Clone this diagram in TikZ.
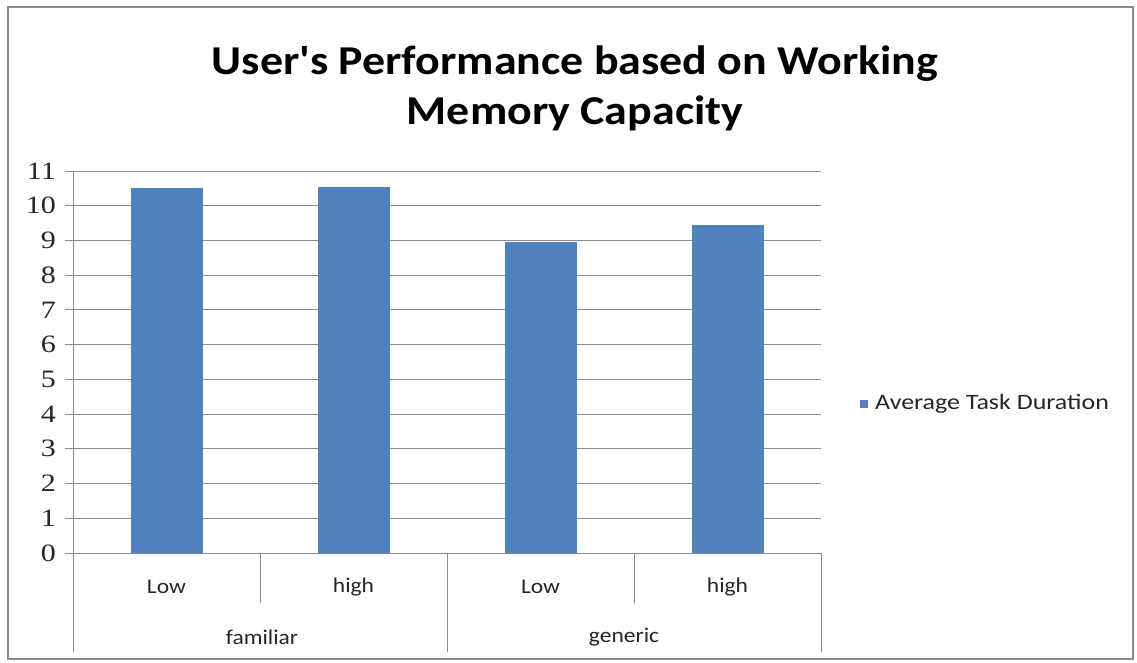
\documentclass[tikz,border=0pt]{standalone}
\usepackage{fontspec}
\setmainfont{Carlito}
\newfontfamily\numfont{Liberation Serif}
\definecolor{barblue}{HTML}{4F81BD}
\definecolor{keyblue}{HTML}{5F78C6}
\definecolor{gridgray}{HTML}{8C8C8C}
\definecolor{framegray}{HTML}{8A8A8A}
\tikzset{
  gridline/.style={draw=gridgray, line width=0.9pt},
  bar/.style={fill=barblue},
  ylab/.style={anchor=east, inner sep=0pt, font=\numfont\fontsize{25}{25}\selectfont, text=black!85},
  xlab/.style={inner sep=0pt, font=\fontsize{21}{21}\selectfont, text=black!85},
  titletext/.style={align=center, font=\bfseries\fontsize{41}{50}\selectfont, text=black},
  legendtext/.style={anchor=west, inner sep=0pt, font=\fontsize{22}{22}\selectfont, text=black!85}
}
\begin{document}
\begin{tikzpicture}[x=1pt,y=-1pt]
  % page and chart frame
  \useasboundingbox (0,0) rectangle (1137,662);
  \fill[white] (0,0) rectangle (1137,662);
  \draw[framegray, line width=1.2pt] (8,7) rectangle (1133,659);

  % title
  \node[titletext] (title) at (575,88) {\scalebox{1.12}[1]{User\textquotesingle s Performance based on Working}\\\scalebox{1.12}[1]{Memory Capacity}};

  % horizontal grid lines, ticks and value labels
  \foreach \k in {0,...,11} {
    \pgfmathsetmacro{\yy}{553-\k*34.73}
    \draw[gridline] (65,\yy) -- (821,\yy);
    \node[ylab] (y\k) at (56,\yy) {\scalebox{1.2}[1]{\k}};
  }

  % axes and category separators
  \coordinate (axtop) at (73,171);
  \coordinate (axbot) at (73,652);
  \draw[gridline] (axtop) -- (axbot);
  \draw[gridline] (260,553) -- (260,603);
  \draw[gridline] (447,553) -- (447,652);
  \draw[gridline] (634,553) -- (634,603);
  \draw[gridline] (821,553) -- (821,652);

  % bars
  \foreach \c/\v in {166.5/10.5, 353.5/10.55, 540.5/8.95, 727.5/9.45} {
    \fill[bar] (\c-36,553) rectangle (\c+36,553-\v*34.73);
  }

  % category labels
  \node[xlab] (c1) at (166.5,587) {\scalebox{1.12}[1]{Low}};
  \node[xlab] (c2) at (353.5,587) {\scalebox{1.12}[1]{high}};
  \node[xlab] (c3) at (540.5,587) {\scalebox{1.12}[1]{Low}};
  \node[xlab] (c4) at (727.5,587) {\scalebox{1.12}[1]{high}};
  \node[xlab] (g1) at (262,637) {\scalebox{1.12}[1]{familiar}};
  \node[xlab] (g2) at (624,637) {\scalebox{1.12}[1]{generic}};

  % legend
  \node[fill=keyblue, minimum size=8pt, inner sep=0pt] (key) at (864,404) {};
  \node[legendtext] (keytext) at (875,404) {\scalebox{1.18}[1]{Average Task Duration}};
\end{tikzpicture}
\end{document}
